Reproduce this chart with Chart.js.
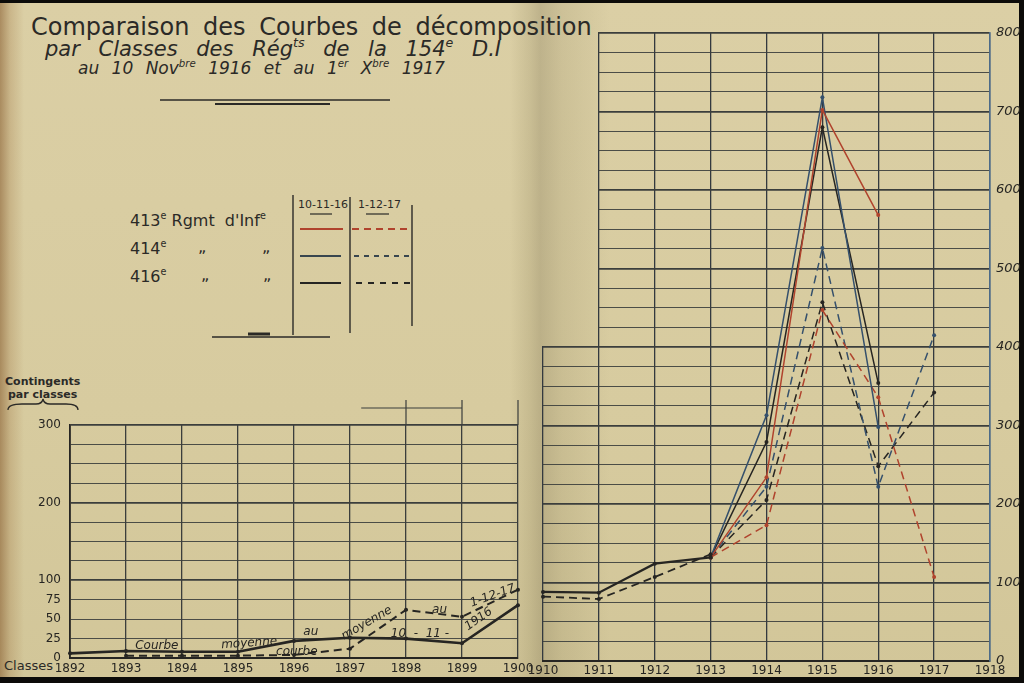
<!DOCTYPE html>
<html lang="fr">
<head>
<meta charset="utf-8">
<title>Comparaison des Courbes de décomposition</title>
<script src="https://cdn.jsdelivr.net/npm/chart.js@4.4.1/dist/chart.umd.min.js"></script>
<style>
  html, body { margin: 0; padding: 0; background: #0c0b09; }
  #page { position: relative; width: 1024px; height: 683px; overflow: hidden; background: #0c0b09; }
  #paper {
    position: absolute; left: 0; top: 3px; width: 1019px; height: 674px;
    background:
      linear-gradient(90deg, rgba(130,85,40,0.55) 0px, rgba(150,105,55,0.25) 10px, rgba(0,0,0,0) 24px),
      linear-gradient(90deg, rgba(0,0,0,0) 510px, rgba(80,70,35,0.12) 530px, rgba(60,50,25,0.18) 540px, rgba(80,70,35,0.10) 562px, rgba(0,0,0,0) 610px),
      linear-gradient(180deg, #dbcfa5 0%, #d7cb9f 60%, #d2c699 100%);
  }
  .txt { position: absolute; white-space: nowrap; color: #2b2a27; font-family: "DejaVu Sans", sans-serif; line-height: 1; }
  .title1 { left: 31px; top: 15px; font-size: 24px; word-spacing: 6px; }
  .title2 { left: 45px; top: 39px; font-size: 21px; font-style: italic; word-spacing: 12px; }
  .title3 { left: 78px; top: 60px; font-size: 17px; font-style: italic; word-spacing: 7px; }
  sup { font-size: 60%; vertical-align: 0.7em; line-height: 0; }
  .lg { font-size: 16px; }
  .hdr { font-size: 11px; }
  .side { font-size: 11px; font-weight: bold; }
  canvas { position: absolute; }
  #earlyChart { left: 0; top: 400px; }
  #lateChart { left: 522px; top: 0; }
  svg { position: absolute; left: 0; top: 0; }
</style>
</head>
<body>
<div id="page">
  <div id="paper"></div>

  <div class="txt title1">Comparaison des Courbes de décomposition</div>
  <div class="txt title2">par Classes des Rég<sup>ts</sup> de la 154<sup>e</sup> D.I</div>
  <div class="txt title3">au 10 Nov<sup>bre</sup> 1916 et au 1<sup>er</sup> X<sup>bre</sup> 1917</div>

  <div class="txt lg" style="left:130px; top:213px;">413<sup>e</sup> Rgmt&nbsp; d'Inf<sup>e</sup></div>
  <div class="txt lg" style="left:130px; top:241px;">414<sup>e</sup></div>
  <div class="txt lg" style="left:198px; top:239px;">„</div>
  <div class="txt lg" style="left:262px; top:239px;">„</div>
  <div class="txt lg" style="left:130px; top:269px;">416<sup>e</sup></div>
  <div class="txt lg" style="left:201px; top:267px;">„</div>
  <div class="txt lg" style="left:263px; top:267px;">„</div>
  <div class="txt hdr" style="left:298px; top:199px;">10-11-16</div>
  <div class="txt hdr" style="left:358px; top:199px;">1-12-17</div>

  <div class="txt side" style="left:5px; top:376px;">Contingents</div>
  <div class="txt side" style="left:8px; top:389px;">par classes</div>
  <div class="txt" style="left:4px; top:659px; font-size:13px;">Classes</div>

  <svg width="1024" height="683">
    <g stroke="#2b2a27" fill="none">
      <line x1="160" y1="100" x2="390" y2="100" stroke-width="1.4"/>
      <line x1="215" y1="104" x2="330" y2="104" stroke-width="1.8"/>
      <line x1="293" y1="195" x2="293" y2="335" stroke-width="1.4"/>
      <line x1="350" y1="197" x2="350" y2="333" stroke-width="1.4"/>
      <line x1="412" y1="205" x2="412" y2="326" stroke-width="1.4"/>
      <line x1="310" y1="214" x2="332" y2="214" stroke-width="1.2"/>
      <line x1="366" y1="214" x2="389" y2="214" stroke-width="1.2"/>
      <line x1="212" y1="337" x2="330" y2="337" stroke-width="1.4"/>
      <line x1="248" y1="334" x2="270" y2="334" stroke-width="3"/>
      <path d="M8 410 Q8 404 22 404 L36 404 Q42 404 43 399 Q44 404 50 404 L66 404 Q78 404 78 410" stroke-width="1.3"/>
    </g>
    <g fill="none" stroke-width="1.8">
      <line x1="300" y1="229" x2="343" y2="229" stroke="#b0432d"/>
      <line x1="352" y1="229" x2="410" y2="229" stroke="#b0432d" stroke-dasharray="7 5"/>
      <line x1="300" y1="256" x2="341" y2="256" stroke="#38464f"/>
      <line x1="354" y1="256" x2="410" y2="256" stroke="#38464f" stroke-dasharray="5 5"/>
      <line x1="300" y1="283" x2="341" y2="283" stroke="#252523"/>
      <line x1="356" y1="283" x2="410" y2="283" stroke="#252523" stroke-dasharray="6 6"/>
    </g>
  </svg>

  <canvas id="earlyChart" width="540" height="283"></canvas>
  <canvas id="lateChart" width="502" height="683"></canvas>
</div>

<script>
// --- DATA ---
// Left sheet: classes 1892-1900, average curve per class (contingents).
const earlyClasses = ['1892', '1893', '1894', '1895', '1896', '1897', '1898', '1899', '1900'];
const earlyAvg1916 = [6, 9, 8, 8, 22, 26, 25, 19, 68];
const earlyAvg1917 = [null, 3, 3, 3, 4, 12, 62, 53, 88];
const earlyTickLabels = [0, 25, 50, 75, 100, 200, 300];

// Right sheet: classes 1910-1918, average up to 1913 then one curve per regiment.
const lateClasses = ['1910', '1911', '1912', '1913', '1914', '1915', '1916', '1917', '1918'];
const lateAvg1916 = [88, 87, 124, 132, null, null, null, null, null];
const lateAvg1917 = [82, 79, 107, 136, null, null, null, null, null];
const rgt413_1916 = [null, null, null, 132, 234, 702, 568, null, null];
const rgt414_1916 = [null, null, null, 132, 313, 718, 298, null, null];
const rgt416_1916 = [null, null, null, 132, 279, 680, 354, null, null];
const rgt413_1917 = [null, null, null, 132, 173, 447, 336, 107, null];
const rgt414_1917 = [null, null, null, 132, 222, 526, 222, 415, null];
const rgt416_1917 = [null, null, null, 132, 205, 457, 248, 342, null];
const lateTickLabels = [0, 100, 200, 300, 400, 500, 600, 700, 800];

// Hand-written words along the left curves: [text, class index, value, angle]
const curveNotes = [
    ['Courbe', 1.55, 16, 0], ['moyenne', 3.2, 19, -4], ['au', 4.3, 33, 0],
    ['10  -  11 -', 6.25, 31, 0], ['1916', 7.3, 50, -35],
    ['courbe', 4.05, 8, 0], ['moyenne', 5.3, 45, -30], ['au', 6.6, 62, 0], ['1-12-17', 7.55, 80, -20]
];

// --- STYLE ---
const INK = '#262522';
const RED = '#b0432d';
const BLUE = '#35506c';
const GRID = '#3b3e3c';
Chart.defaults.font.family = '"DejaVu Sans", sans-serif';
Chart.defaults.color = INK;

function lineSet(data, color, dashed, width) {
    return {
        data,
        borderColor: color,
        backgroundColor: color,
        borderWidth: width,
        borderDash: dashed ? [8, 5] : [],
        pointRadius: 2,
        pointBorderWidth: 0,
        pointBackgroundColor: color,
        tension: 0,
        spanGaps: false,
    };
}

// --- PLUGINS ---
const notesPlugin = {
    id: 'curveNotes',
    afterDatasetsDraw(chart) {
        const { ctx, scales: { x, y } } = chart;
        ctx.save();
        ctx.fillStyle = INK;
        ctx.font = 'italic 12px "DejaVu Sans"';
        ctx.textAlign = 'center';
        ctx.textBaseline = 'middle';
        curveNotes.forEach(([text, at, value, angle]) => {
            ctx.save();
            ctx.translate(x.getPixelForValue(at), y.getPixelForValue(value));
            ctx.rotate(angle * Math.PI / 180);
            ctx.fillText(text, 0, 0);
            ctx.restore();
        });
        ctx.restore();
    }
};

// The ruled paper above the left grid: a few stray lines drawn by hand.
const strayRulesPlugin = {
    id: 'strayRules',
    afterDraw(chart) {
        const { ctx, chartArea, scales: { x } } = chart;
        const top = chartArea.top;
        ctx.save();
        ctx.strokeStyle = GRID;
        ctx.lineWidth = 1.2;
        ctx.beginPath();
        ctx.moveTo(x.getPixelForValue(6), top); ctx.lineTo(x.getPixelForValue(6), top - 42);
        ctx.moveTo(x.getPixelForValue(7), top); ctx.lineTo(x.getPixelForValue(7), top - 55);
        ctx.moveTo(x.getPixelForValue(8), top); ctx.lineTo(x.getPixelForValue(8), top - 55);
        ctx.moveTo(x.getPixelForValue(5.2), top - 17); ctx.lineTo(x.getPixelForValue(7), top - 17);
        ctx.stroke();
        ctx.restore();
    }
};

// Right sheet: the 1910-1911 column is only ruled below the 400 line.
const blankCornerPlugin = {
    id: 'blankCorner',
    beforeDatasetsDraw(chart) {
        const { ctx, chartArea, scales: { x, y } } = chart;
        const x0 = x.getPixelForValue(0) - 3;
        const x1 = x.getPixelForValue(1) - 1;
        const y1 = y.getPixelForValue(400) - 1;
        ctx.clearRect(x0, chartArea.top - 4, x1 - x0, y1 - chartArea.top + 4);
    }
};

// --- LEFT CHART (1892-1900) ---
new Chart(document.getElementById('earlyChart'), {
    type: 'line',
    data: {
        labels: earlyClasses,
        datasets: [
            lineSet(earlyAvg1916, INK, false, 2.6),
            lineSet(earlyAvg1917, INK, true, 2),
        ],
    },
    options: {
        responsive: false,
        animation: false,
        layout: { padding: { left: 0, right: 22, top: 25, bottom: 3 } },
        plugins: { legend: { display: false }, tooltip: { enabled: false } },
        scales: {
            x: {
                offset: false,
                grid: { color: GRID, lineWidth: 1.3, drawTicks: false },
                border: { color: INK, width: 2 },
                ticks: { font: { size: 12 }, padding: 4, maxRotation: 0, autoSkip: false },
                afterFit: s => { s.height = 22; },
            },
            y: {
                min: 0,
                max: 300,
                grid: {
                    color: GRID,
                    lineWidth: c => (c.tick && c.tick.value % 100 === 0 ? 1.7 : 0.9),
                    drawTicks: false,
                },
                border: { color: INK, width: 1.8 },
                ticks: {
                    stepSize: 25,
                    padding: 9,
                    font: { size: 12 },
                    callback: v => (earlyTickLabels.includes(v) ? String(v) : ''),
                },
                afterFit: s => { s.width = 70; },
            },
        },
    },
    plugins: [notesPlugin, strayRulesPlugin],
});

// --- RIGHT CHART (1910-1918) ---
new Chart(document.getElementById('lateChart'), {
    type: 'line',
    data: {
        labels: lateClasses,
        datasets: [
            lineSet(lateAvg1916, INK, false, 2.2),
            lineSet(lateAvg1917, INK, true, 1.8),
            lineSet(rgt413_1916, RED, false, 1.5),
            lineSet(rgt414_1916, BLUE, false, 1.5),
            lineSet(rgt416_1916, INK, false, 1.5),
            lineSet(rgt413_1917, RED, true, 1.5),
            lineSet(rgt414_1917, BLUE, true, 1.5),
            lineSet(rgt416_1917, INK, true, 1.5),
        ],
    },
    options: {
        responsive: false,
        animation: false,
        layout: { padding: { left: 21, right: 0, top: 33, bottom: 0 } },
        plugins: { legend: { display: false }, tooltip: { enabled: false } },
        scales: {
            x: {
                offset: false,
                grid: { color: c => (c.index === 8 ? '#4d6b88' : '#33393f'), lineWidth: 1.3, drawTicks: false },
                border: { color: INK, width: 2 },
                ticks: { font: { size: 12 }, padding: 3, maxRotation: 0, autoSkip: false },
                afterFit: s => { s.height = 22; },
            },
            y: {
                position: 'right',
                min: 0,
                max: 800,
                grid: {
                    color: GRID,
                    lineWidth: c => (c.tick && c.tick.value % 100 === 0 ? 1.7 : 0.9),
                    drawTicks: false,
                },
                border: { color: '#4d6b88', width: 1.6 },
                ticks: {
                    stepSize: 25,
                    padding: 6,
                    font: { size: 13, style: 'italic' },
                    callback: v => (lateTickLabels.includes(v) ? String(v) : ''),
                },
                afterFit: s => { s.width = 34; },
            },
        },
    },
    plugins: [blankCornerPlugin],
});
</script>
</body>
</html>
